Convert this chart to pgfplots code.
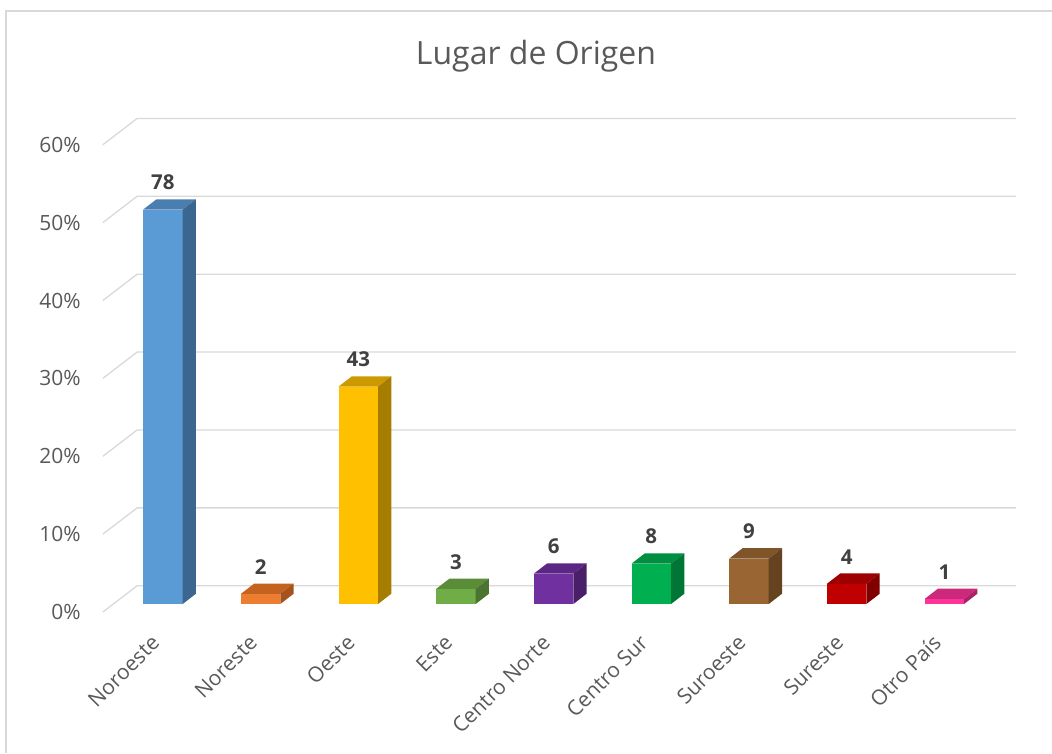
\documentclass[border=0pt]{standalone}
\usepackage{pgfplots}
\pgfplotsset{compat=1.18}
\usepackage{pgfplotstable}
\usepackage{fontspec}
\setmainfont{Open Sans}
\definecolor{gridc}{HTML}{D9D9D9}
\definecolor{txt}{HTML}{595959}
\definecolor{lbl}{HTML}{404040}
\definecolor{cF0}{HTML}{5B9BD5}\definecolor{cT0}{HTML}{4B7EB0}\definecolor{cS0}{HTML}{3A6690}
\definecolor{cF1}{HTML}{ED7D31}\definecolor{cT1}{HTML}{C4621F}\definecolor{cS1}{HTML}{A5521B}
\definecolor{cF2}{HTML}{FFC000}\definecolor{cT2}{HTML}{CC9A00}\definecolor{cS2}{HTML}{A67D00}
\definecolor{cF3}{HTML}{70AD47}\definecolor{cT3}{HTML}{5B8D39}\definecolor{cS3}{HTML}{4A742F}
\definecolor{cF4}{HTML}{7030A0}\definecolor{cT4}{HTML}{5C2784}\definecolor{cS4}{HTML}{4A1F6A}
\definecolor{cF5}{HTML}{00B050}\definecolor{cT5}{HTML}{008F41}\definecolor{cS5}{HTML}{007636}
\definecolor{cF6}{HTML}{996633}\definecolor{cT6}{HTML}{7E5428}\definecolor{cS6}{HTML}{654321}
\definecolor{cF7}{HTML}{C00000}\definecolor{cT7}{HTML}{9E0000}\definecolor{cS7}{HTML}{800000}
\definecolor{cF8}{HTML}{FF3399}\definecolor{cT8}{HTML}{CC297D}\definecolor{cS8}{HTML}{AA2266}
\pgfplotstableread{
v n
50.65 78
1.30 2
27.92 43
1.95 3
3.90 6
5.19 8
5.84 9
2.60 4
0.65 1
}\datatable
\begin{document}
\begin{tikzpicture}[x=1pt,y=1pt]
\useasboundingbox (0,0) rectangle (1052,753);
\draw[gridc, line width=1.3pt] (6,0) -- (6,742) -- (1052,742);
\node[anchor=base, font=\fontsize{32}{36}\selectfont, text=txt, inner sep=0pt] at (536,688) {Lugar de Origen};
\begin{axis}[
  at={(105.3,181)}, anchor=south west,
  scale only axis, width=879.1pt, height=467.3pt,
  xmin=-0.5, xmax=8.5, ymin=0, ymax=60,
  clip=false,
  axis line style={draw=none},
  major tick length=0pt, tick style={draw=none},
  ytick={0,10,...,60},
  yticklabels={0\%,10\%,20\%,30\%,40\%,50\%,60\%},
  yticklabel style={font=\fontsize{21}{24}\selectfont, text=txt, anchor=east, inner sep=0pt, xshift=-22pt},
  xtick={0,...,8},
  xticklabels={Noroeste,Noreste,Oeste,Este,Centro Norte,Centro Sur,Suroeste,Sureste,Otro País},
  xticklabel style={font=\fontsize{21}{24}\selectfont, text=txt, xshift=4pt, yshift=-27pt, rotate=45, anchor=east, inner sep=0pt},
]
% back wall gridlines
\pgfplotsinvokeforeach{0,10,...,60}{
  \pgfmathsetmacro\gy{#1+3.377}
  \edef\tmp{\noexpand\addplot[gridc, line width=1.3pt] coordinates {(-0.5,#1) (-0.149,\gy) (8.851,\gy)};}
  \tmp
}
% 3D bars
\pgfplotsinvokeforeach{0,...,8}{
  \pgfplotstablegetelem{#1}{v}\of\datatable
  \pgfmathsetmacro\yt{\pgfplotsretval+1.03}
  \pgfmathsetmacro\yb{1.03}
  \pgfmathsetmacro\xl{#1+0.115-0.202}
  \pgfmathsetmacro\xr{#1+0.115+0.202}
  \pgfmathsetmacro\xlb{\xl+0.136}
  \pgfmathsetmacro\xrb{\xr+0.136}
  \pgfmathsetmacro\ytb{\yt+1.32}
  \pgfmathsetmacro\ybb{\yb+1.32}
  \edef\tmp{%
    \noexpand\addplot[fill=cF#1, draw=none] coordinates {(\xl,\yb) (\xr,\yb) (\xr,\yt) (\xl,\yt)} -- cycle;
    \noexpand\addplot[fill=cT#1, draw=none] coordinates {(\xl,\yt) (\xr,\yt) (\xrb,\ytb) (\xlb,\ytb)} -- cycle;
    \noexpand\addplot[fill=cS#1, draw=none] coordinates {(\xr,\yb) (\xrb,\ybb) (\xrb,\ytb) (\xr,\yt)} -- cycle;
  }
  \tmp
}
% data labels
\addplot[draw=none, mark=none, nodes near coords, point meta=explicit symbolic,
  nodes near coords style={anchor=south, inner sep=0pt, yshift=9pt, font=\fontsize{20.5}{24}\selectfont\bfseries, text=lbl}]
  table[x expr=\coordindex+0.115, y expr=\thisrow{v}+2.35, meta=n] {\datatable};
\end{axis}
\end{tikzpicture}
\end{document}
